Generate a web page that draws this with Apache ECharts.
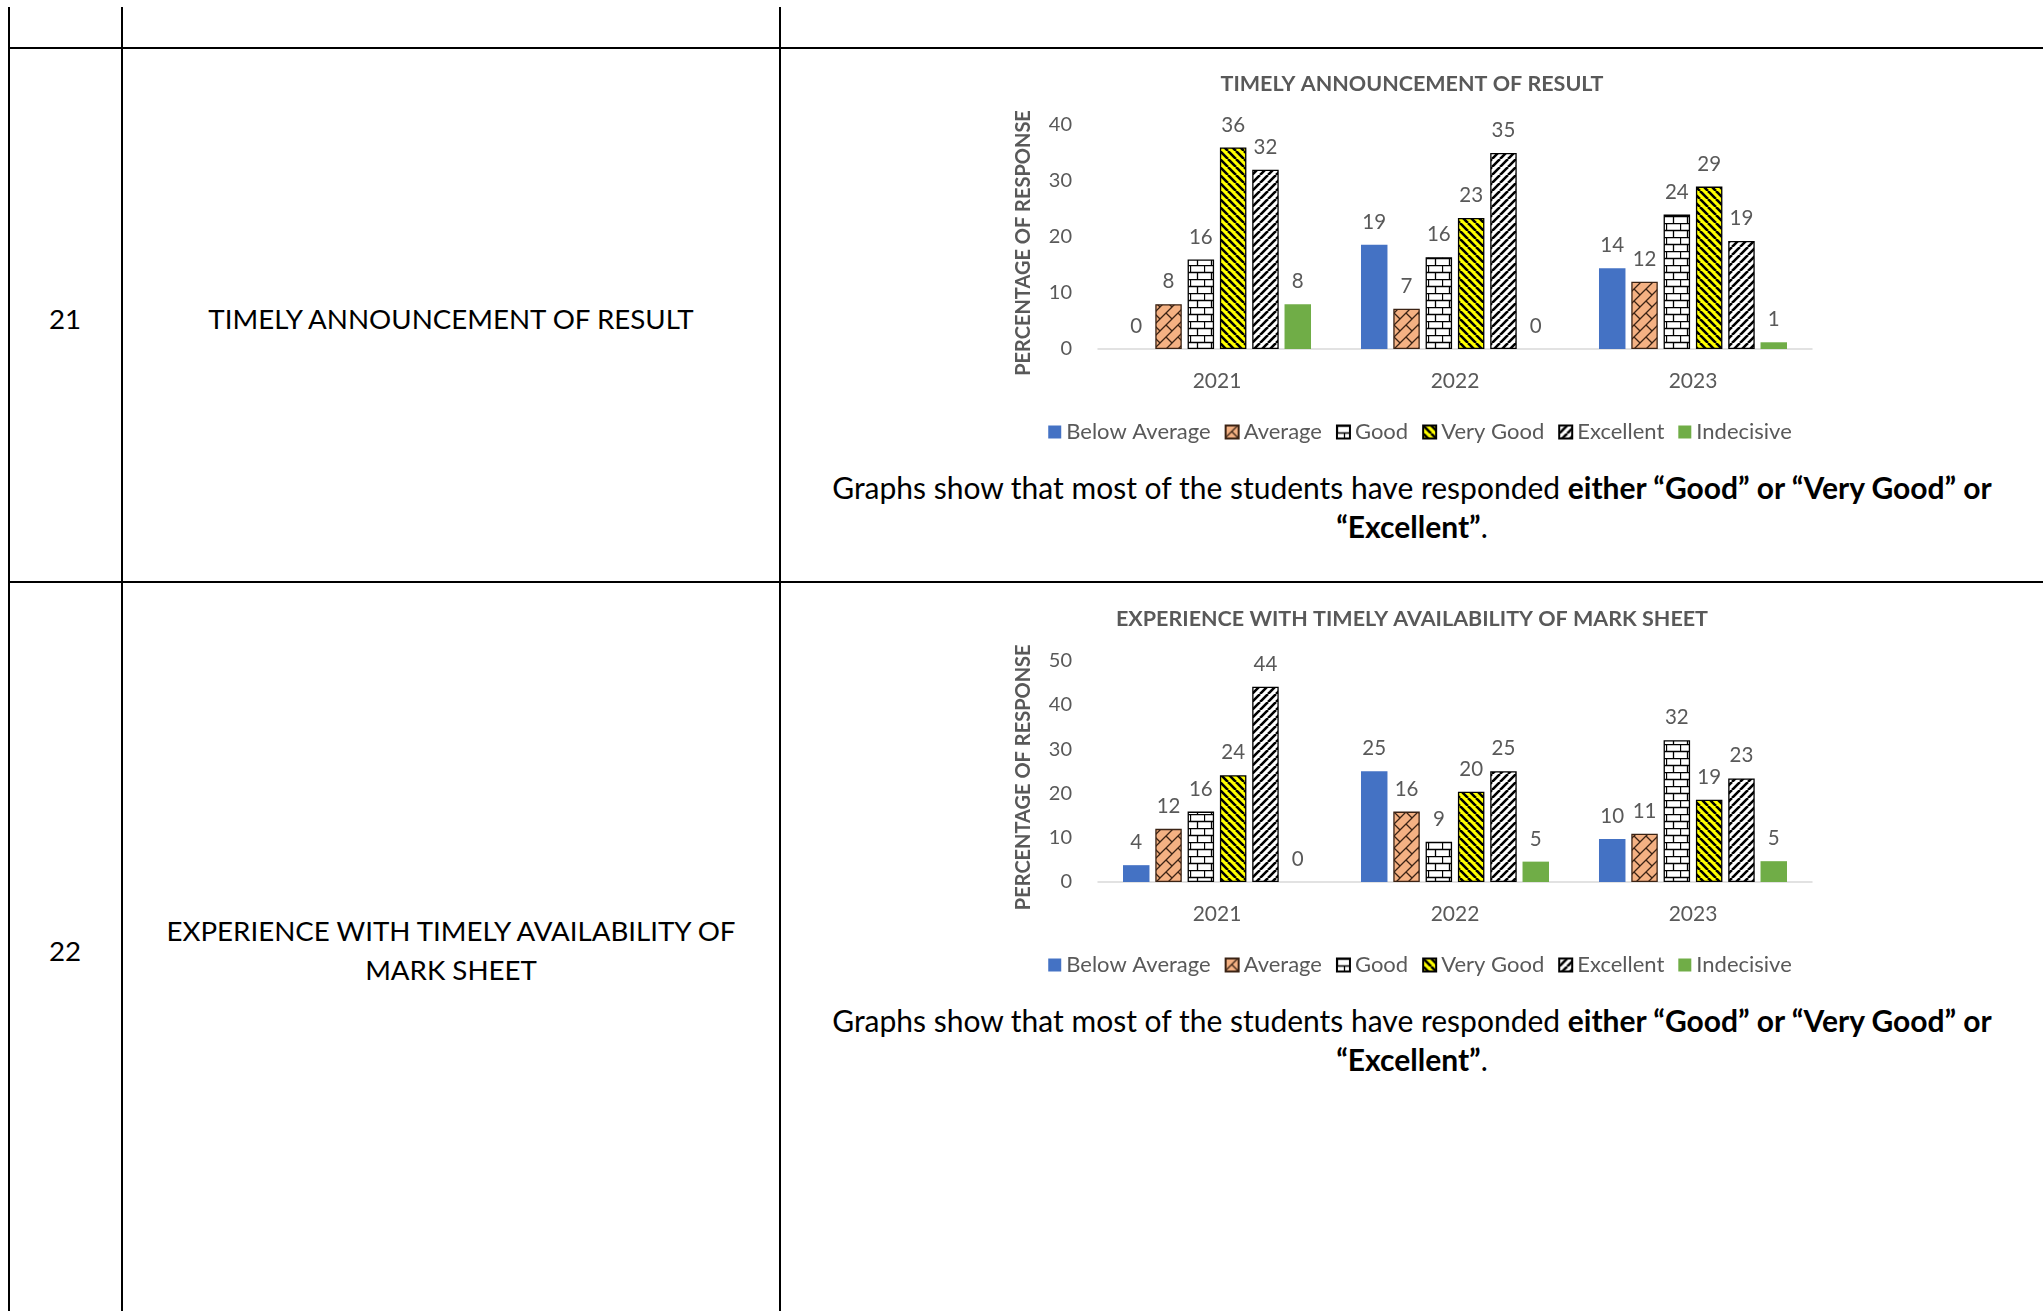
<!DOCTYPE html>
<html><head><meta charset="utf-8">
<script src="https://cdn.jsdelivr.net/npm/echarts@6/dist/echarts.min.js"></script>
<style>
html,body{margin:0;padding:0;background:#fff;width:2043px;height:1311px;overflow:hidden;font-family:Lato,"Open Sans",sans-serif;}
.vl{position:absolute;background:#000;width:2px;top:7px;height:1304px;}
.hl{position:absolute;background:#000;height:2px;left:9px;width:2034px;}
.t{position:absolute;transform:translate(-50%,-50%);text-align:center;white-space:nowrap;color:#000;font-size:27.7px;line-height:39px;}
.d{font-size:30px;}
.chart{position:absolute;width:880px;height:400px;left:980px;}
</style></head><body>
<div class="vl" style="left:8px"></div>
<div class="vl" style="left:121px"></div>
<div class="vl" style="left:779px"></div>
<div class="hl" style="top:47px"></div>
<div class="hl" style="top:581px"></div>

<div class="t" style="left:65px;top:318px">21</div>
<div class="t" style="left:451px;top:318px">TIMELY ANNOUNCEMENT OF RESULT</div>
<div class="t" style="left:65px;top:950px">22</div>
<div class="t" style="left:451px;top:950px">EXPERIENCE WITH TIMELY AVAILABILITY OF<br>MARK SHEET</div>

<div id="c1" class="chart" style="top:55px"></div>
<div class="t d" style="left:1412px;top:507px">Graphs show that most of the students have responded <b>either “Good” or “Very Good” or</b><br><b>“Excellent”</b>.</div>

<div id="c2" class="chart" style="top:590px"></div>
<div class="t d" style="left:1412px;top:1040px">Graphs show that most of the students have responded <b>either “Good” or “Very Good” or</b><br><b>“Excellent”</b>.</div>

<script>
// ---- data ----
const categories = ['2021', '2022', '2023'];
const seriesNames = ['Below Average', 'Average', 'Good', 'Very Good', 'Excellent', 'Indecisive'];
const yAxisName = 'PERCENTAGE OF RESPONSE';

const chart1Title = 'TIMELY ANNOUNCEMENT OF RESULT';
const chart1Ticks = [0, 10, 20, 30, 40];
const chart1BelowAverage = [0, 18.6, 14.4];
const chart1Average = [8, 7.2, 12];
const chart1Good = [16, 16.4, 24];
const chart1VeryGood = [36, 23.4, 29];
const chart1Excellent = [32, 35, 19.3];
const chart1Indecisive = [8, 0, 1.2];

const chart2Title = 'EXPERIENCE WITH TIMELY AVAILABILITY OF MARK SHEET';
const chart2Ticks = [0, 10, 20, 30, 40, 50];
const chart2BelowAverage = [3.8, 25, 9.7];
const chart2Average = [12, 15.9, 10.9];
const chart2Good = [15.9, 9.1, 32];
const chart2VeryGood = [24.1, 20.4, 18.6];
const chart2Excellent = [44.1, 25, 23.4];
const chart2Indecisive = [0, 4.6, 4.7];

// ---- patterns ----
function tile(w, h, bg, draw) {
  const c = document.createElement('canvas');
  c.width = w; c.height = h;
  const g = c.getContext('2d');
  g.fillStyle = bg; g.fillRect(0, 0, w, h);
  draw(g, w, h);
  return { image: c, repeat: 'repeat' };
}
function patAverage() {
  return tile(12, 12, '#F4B183', (g) => {
    g.strokeStyle = '#3b2314'; g.lineWidth = 1.3;
    g.beginPath();
    g.moveTo(0, 12); g.lineTo(12, 0);
    g.moveTo(6, 6); g.lineTo(12, 12);
    g.moveTo(-1, 1); g.lineTo(1, -1);
    g.moveTo(11, 13); g.lineTo(13, 11);
    g.stroke();
  });
}
function patGood() {
  return tile(14, 14, '#FFFFFF', (g) => {
    g.strokeStyle = '#000'; g.lineWidth = 1.3;
    g.beginPath();
    g.moveTo(0, 0.5); g.lineTo(14, 0.5);
    g.moveTo(0, 7.5); g.lineTo(14, 7.5);
    g.moveTo(0.5, 0); g.lineTo(0.5, 7.5);
    g.moveTo(7.5, 7.5); g.lineTo(7.5, 14);
    g.stroke();
  });
}
function patStripes(bg, down) {
  return tile(8, 8, bg, (g) => {
    g.strokeStyle = '#000'; g.lineWidth = 2.6;
    g.beginPath();
    for (let k = -8; k <= 16; k += 8) {
      if (down) { g.moveTo(k, 0); g.lineTo(k + 8, 8); }
      else { g.moveTo(k, 8); g.lineTo(k + 8, 0); }
    }
    g.stroke();
  });
}

const seriesStyles = [
  { color: '#4472C4' },
  { color: patAverage(), borderColor: '#3b2314', borderWidth: 1.3 },
  { color: patGood(), borderColor: '#000', borderWidth: 1.3 },
  { color: patStripes('#FFFF00', true), borderColor: '#000', borderWidth: 1.3 },
  { color: patStripes('#FFFFFF', false), borderColor: '#000', borderWidth: 1.3 },
  { color: '#70AD47' }
];

const FONT = 'Lato, "Open Sans", sans-serif';
const GRAY = '#595959';

function buildOption(title, ticks, dataLists, gridTop, gridHeight) {
  return {
    animation: false,
    textStyle: { fontFamily: FONT },
    title: {
      text: title, left: 427, top: 13, textAlign: 'center',
      textStyle: { fontFamily: FONT, fontSize: 21.5, fontWeight: 'bold', color: GRAY }
    },
    legend: {
      data: seriesNames, top: gridTop + gridHeight + 67, left: 'center',
      icon: 'rect', itemWidth: 13, itemHeight: 13, itemGap: 14,
      textStyle: { fontFamily: FONT, fontSize: 22, color: GRAY }
    },
    grid: { left: 118, top: gridTop, width: 714, height: gridHeight, containLabel: false },
    xAxis: {
      type: 'category', data: categories,
      axisLine: { lineStyle: { color: '#D9D9D9', width: 1.5 } },
      axisTick: { show: false },
      axisLabel: { fontFamily: FONT, fontSize: 21, color: GRAY, margin: 22 }
    },
    yAxis: {
      type: 'value', min: ticks[0], max: ticks[ticks.length - 1], interval: ticks[1] - ticks[0],
      name: yAxisName, nameLocation: 'middle', nameGap: 64,
      nameTextStyle: { fontFamily: FONT, fontSize: 20, fontWeight: 'bold', color: GRAY, padding: [0, 12, 0, 0] },
      axisLine: { show: false }, axisTick: { show: false }, splitLine: { show: false },
      axisLabel: { fontFamily: FONT, fontSize: 20, color: GRAY, margin: 26 }
    },
    series: seriesNames.map((n, i) => ({
      name: n, type: 'bar', data: dataLists[i],
      barCategoryGap: '21%', barGap: '22%',
      itemStyle: seriesStyles[i],
      label: {
        show: true, position: 'top', distance: 12,
        fontFamily: FONT, fontSize: 20.5, color: GRAY,
        formatter: (p) => String(Math.round(p.value))
      }
    }))
  };
}

const c1 = echarts.init(document.getElementById('c1'));
c1.setOption(buildOption(chart1Title, chart1Ticks,
  [chart1BelowAverage, chart1Average, chart1Good, chart1VeryGood, chart1Excellent, chart1Indecisive], 70, 224));
const c2 = echarts.init(document.getElementById('c2'));
c2.setOption(buildOption(chart2Title, chart2Ticks,
  [chart2BelowAverage, chart2Average, chart2Good, chart2VeryGood, chart2Excellent, chart2Indecisive], 70.6, 221.4));
</script>
</body></html>
